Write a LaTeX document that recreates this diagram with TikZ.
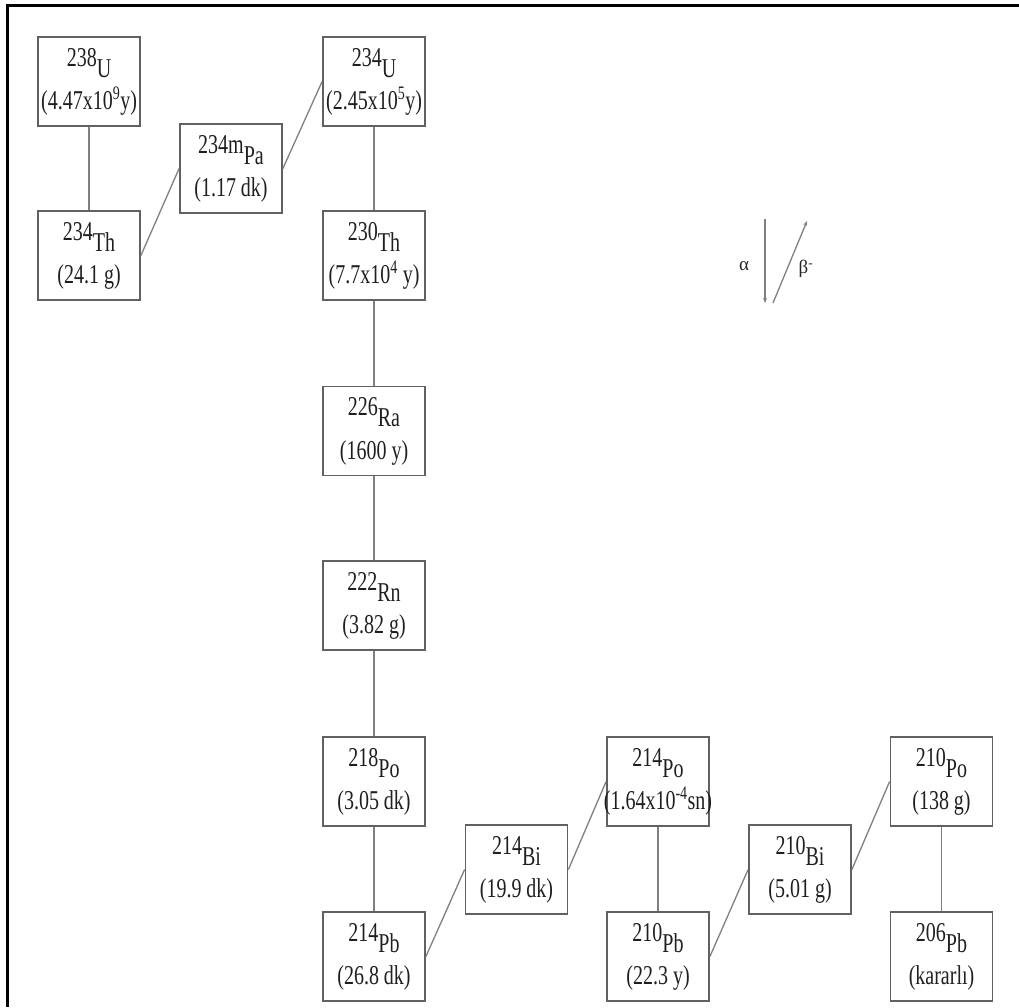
\documentclass[tikz,border=0pt]{standalone}
\usepackage{fontspec}
\setmainfont{Liberation Serif}
\usepackage{graphicx}
\usetikzlibrary{arrows.meta}
\newcommand{\isolbl}[3]{\makebox[90pt]{\scalebox{1}[1.36]{\begin{tabular}{@{}c@{}}#1\raisebox{-0.40em}{#2}\\[8pt]#3\end{tabular}}}}
\tikzset{
  iso/.style={draw=black!62, line width=1.8pt, minimum width=102pt, minimum height=89pt, inner sep=0pt, text=black!88, font=\fontsize{20}{24}\selectfont},
  link/.style={draw=black!50, line width=1.3pt},
  legarrow/.style={draw=black!50, line width=1.3pt, -{Stealth[length=5pt,width=4pt]}},
  leglbl/.style={text=black!85, font=\fontsize{19}{21}\selectfont, inner sep=0pt}
}
\begin{document}
\begin{tikzpicture}[x=1pt,y=-1pt]
\useasboundingbox (0,0) rectangle (1019,1007);
\draw[line width=3pt, black] (7,1007) -- (7,5) -- (1019,5);

\node[iso] (u238) at (89,81.5) {\isolbl{238}{U}{(4.47x10\textsuperscript{9}y)}};
\node[iso] (th234) at (89,255.5) {\isolbl{234}{Th}{(24.1 g)}};
\node[iso] (pa234) at (231,168.5) {\isolbl{234m}{Pa}{(1.17 dk)}};
\node[iso] (u234) at (374,81.5) {\isolbl{234}{U}{(2.45x10\textsuperscript{5}y)}};
\node[iso] (th230) at (374,255.5) {\isolbl{230}{Th}{(7.7x10\textsuperscript{4} y)}};
\node[iso] (ra226) at (374,431) {\isolbl{226}{Ra}{(1600 y)}};
\node[iso] (rn222) at (374,605.5) {\isolbl{222}{Rn}{(3.82 g)}};
\node[iso] (po218) at (374,781.5) {\isolbl{218}{Po}{(3.05 dk)}};
\node[iso] (pb214) at (374,956.5) {\isolbl{214}{Pb}{(26.8 dk)}};
\node[iso] (bi214) at (516.5,869.5) {\isolbl{214}{Bi}{(19.9 dk)}};
\node[iso] (po214) at (658,781.5) {\isolbl{214}{Po}{(1.64x10\textsuperscript{-4}sn)}};
\node[iso] (pb210) at (658,956.5) {\isolbl{210}{Pb}{(22.3 y)}};
\node[iso] (bi210) at (800,869.5) {\isolbl{210}{Bi}{(5.01 g)}};
\node[iso] (po210) at (941.5,781.5) {\isolbl{210}{Po}{(138 g)}};
\node[iso] (pb206) at (941.5,956.5) {\isolbl{206}{Pb}{(kararlı)}};

\draw[link] (u238) -- (th234);
\draw[link] (th234.east) -- (pa234.west);
\draw[link] (pa234.east) -- (u234.west);
\draw[link] (u234) -- (th230);
\draw[link] (th230) -- (ra226);
\draw[link] (ra226) -- (rn222);
\draw[link] (rn222) -- (po218);
\draw[link] (po218) -- (pb214);
\draw[link] (pb214.east) -- (bi214.west);
\draw[link] (bi214.east) -- (po214.west);
\draw[link] (po214) -- (pb210);
\draw[link] (pb210.east) -- (bi210.west);
\draw[link] (bi210.east) -- (po210.west);
\draw[link] (po210) -- (pb206);

\coordinate (atop) at (765,219);
\coordinate (abot) at (765,303);
\coordinate (bbot) at (773,303);
\coordinate (btop) at (807,221);
\draw[legarrow] (atop) -- (abot);
\draw[legarrow] (bbot) -- (btop);
\node[leglbl] (alpha) at (744,266) {α};
\node[leglbl] (beta) at (806,269) {β\textsuperscript{-}};
\end{tikzpicture}
\end{document}
